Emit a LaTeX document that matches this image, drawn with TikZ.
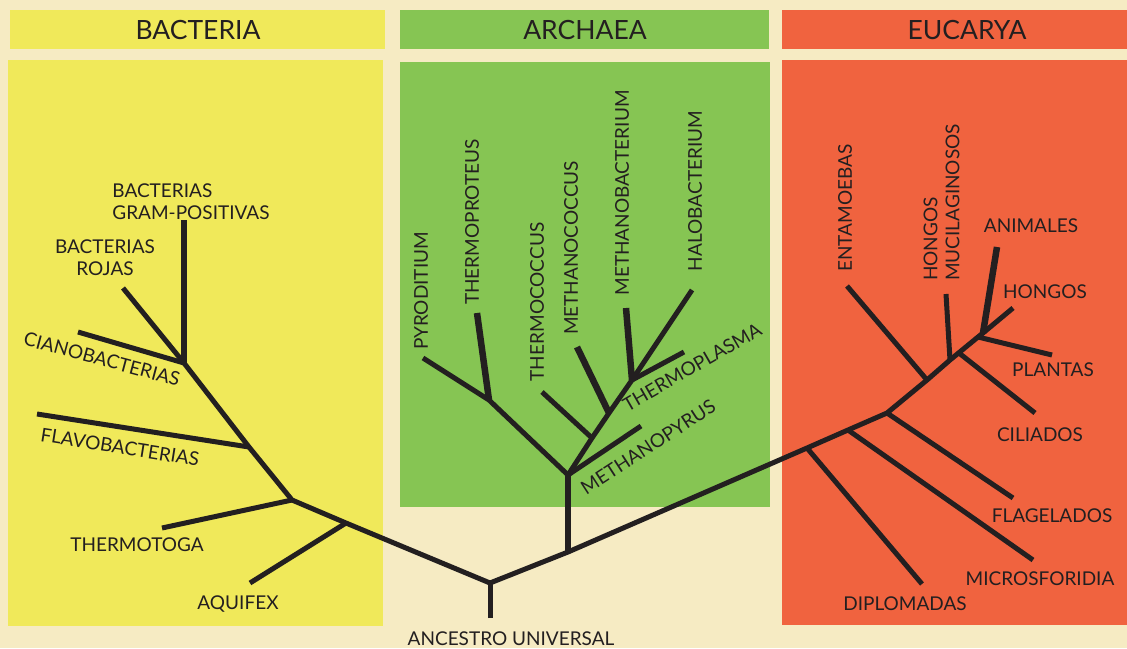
\documentclass[tikz,border=0pt]{standalone}
\usepackage{fontspec}
\setmainfont{Lato}
\usepackage{tikz}
\definecolor{paper}{HTML}{F6EBC3}
\definecolor{bacyellow}{HTML}{F0E95A}
\definecolor{arcgreen}{HTML}{86C553}
\definecolor{eucred}{HTML}{F0633F}
\definecolor{ink}{HTML}{231F20}

\begin{document}
\begin{tikzpicture}[x=1pt, y=-1pt,
    branch/.style={draw=ink, line width=5pt, line join=round},
    thickbranch/.style={draw=ink, line width=6.5pt, line join=round},
    taxon/.style={inner sep=0pt, text=ink, text depth=0pt, font=\fontsize{19}{22}\selectfont},
    domainhead/.style={inner sep=0pt, text=ink, font=\fontsize{26.5}{30}\selectfont}]
    \useasboundingbox (0,0) rectangle (1127,648);

    % Paper
    \fill[paper] (0,0) rectangle (1127,648);

    % Domain headers
    \fill[bacyellow] (10,10) rectangle (385,49);
    \fill[arcgreen] (400,10) rectangle (769,49);
    \fill[eucred] (782,10) rectangle (1127,49);
    \node[domainhead] (hbac) at (198,30) {BACTERIA};
    \node[domainhead] (harc) at (585,30) {ARCHAEA};
    \node[domainhead] (heuc) at (967,30) {EUCARYA};

    % Domain panels
    \fill[bacyellow] (8,60) rectangle (383,626);
    \fill[arcgreen] (400,62) rectangle (770,507);
    \fill[eucred] (782,60) rectangle (1127,625);

    % Junctions
    \coordinate (root) at (490,583);
    \coordinate (rootend) at (490,618);
    \coordinate (b1) at (346,523);
    \coordinate (b2) at (292,500);
    \coordinate (b3) at (249,447);
    \coordinate (b4) at (184,363);
    \coordinate (astem) at (568,552);
    \coordinate (anode) at (568,475);
    \coordinate (apyr) at (489,400);
    \coordinate (ac1) at (592,438);
    \coordinate (ac2) at (609,413);
    \coordinate (ac3) at (632,380);
    \coordinate (e0) at (807,448);
    \coordinate (e1) at (848,430);
    \coordinate (e2) at (887,413);
    \coordinate (e3) at (927,380);
    \coordinate (e4) at (950,360);
    \coordinate (e45) at (959,353);
    \coordinate (e5) at (978,337);
    \coordinate (e6) at (983,333);

    % Tips
    \coordinate (tgram) at (184,220);
    \coordinate (troj) at (123,288);
    \coordinate (tcia) at (78,332);
    \coordinate (tfla) at (37,414);
    \coordinate (ttmt) at (162,528);
    \coordinate (taqu) at (250,583);
    \coordinate (tpyd) at (423,358);
    \coordinate (ttpr) at (477,313);
    \coordinate (ttcc) at (542,392);
    \coordinate (tmcc) at (577,347);
    \coordinate (tmbc) at (626,308);
    \coordinate (ttpl) at (684,352);
    \coordinate (thal) at (692,290);
    \coordinate (tmpy) at (641,426);
    \coordinate (tent) at (847,286);
    \coordinate (thmu) at (946,294);
    \coordinate (tani) at (997,247);
    \coordinate (thon) at (1013,308);
    \coordinate (tpla) at (1052,355);
    \coordinate (tcil) at (1035,413);
    \coordinate (tflg) at (1013,498);
    \coordinate (tmic) at (1033,560);
    \coordinate (tdip) at (922,584);

    % Trunk
    \draw[branch] (rootend) -- (root);
    \draw[branch] (root) -- (b1) -- (b2) -- (b3) -- (b4);
    \draw[branch] (root) -- (astem) -- (e0) -- (e1) -- (e2) -- (e3) -- (e4) -- (e5) -- (e6) -- (thon);

    % Bacteria
    \draw[thickbranch] (b4) -- (tgram);
    \draw[branch] (b4) -- (troj);
    \draw[branch] (b4) -- (tcia);
    \draw[branch] (b3) -- (tfla);
    \draw[branch] (b2) -- (ttmt);
    \draw[branch] (b1) -- (taqu);

    % Archaea
    \draw[thickbranch] (astem) -- (anode);
    \draw[branch] (anode) -- (apyr) -- (tpyd);
    \draw[thickbranch] (apyr) -- (ttpr);
    \draw[branch] (anode) -- (tmpy);
    \draw[branch] (anode) -- (ac1) -- (ac2) -- (ac3) -- (thal);
    \draw[branch] (ac1) -- (ttcc);
    \draw[thickbranch] (ac2) -- (tmcc);
    \draw[thickbranch] (ac3) -- (tmbc);
    \draw[branch] (ac3) -- (ttpl);

    % Eucarya
    \draw[branch] (e0) -- (tdip);
    \draw[branch] (e1) -- (tmic);
    \draw[branch] (e2) -- (tflg);
    \draw[branch] (e3) -- (tent);
    \draw[branch] (e4) -- (thmu);
    \draw[branch] (e45) -- (tcil);
    \draw[branch] (e5) -- (tpla);
    \draw[thickbranch] (e6) -- (tani);

    % Labels
    \node[taxon, align=left] (lgram) at (191,201.5) {BACTERIAS\\GRAM-POSITIVAS};
    \node[taxon, align=center] (lroj) at (105,257.5) {BACTERIAS\\ROJAS};
    \node[taxon, rotate=-15] (lcia) at (102,359) {CIANOBACTERIAS};
    \node[taxon, rotate=-9] (lfla) at (120,447) {FLAVOBACTERIAS};
    \node[taxon] (ltmt) at (137,544.5) {THERMOTOGA};
    \node[taxon] (laqu) at (238,602.5) {AQUIFEX};
    \node[taxon] (lroot) at (511,639) {ANCESTRO UNIVERSAL};
    \node[taxon, rotate=90] (lpyd) at (421,291) {PYRODITIUM};
    \node[taxon, rotate=90] (ltpr) at (472,222) {THERMOPROTEUS};
    \node[taxon, rotate=90] (ltcc) at (537,302) {THERMOCOCCUS};
    \node[taxon, rotate=90] (lmcc) at (571,248) {METHANOCOCCUS};
    \node[taxon, rotate=90] (lmbc) at (622,193) {METHANOBACTERIUM};
    \node[taxon, rotate=90] (lhal) at (695,191) {HALOBACTERIUM};
    \node[taxon, rotate=30] (ltpl) at (692,367) {THERMOPLASMA};
    \node[taxon, rotate=33] (lmpy) at (648,447) {METHANOPYRUS};
    \node[taxon, rotate=90] (lent) at (845,208) {ENTAMOEBAS};
    \node[taxon, rotate=90, align=left] (lhmu) at (941.5,202.5) {HONGOS\\MUCILAGINOSOS};
    \node[taxon] (lani) at (1031,225.5) {ANIMALES};
    \node[taxon] (lhon) at (1045,291.5) {HONGOS};
    \node[taxon] (lpla) at (1053,370) {PLANTAS};
    \node[taxon] (lcil) at (1040,435) {CILIADOS};
    \node[taxon] (lflg) at (1052,515.5) {FLAGELADOS};
    \node[taxon] (lmic) at (1040,578.5) {MICROSFORIDIA};
    \node[taxon] (ldip) at (905,604) {DIPLOMADAS};
\end{tikzpicture}
\end{document}
